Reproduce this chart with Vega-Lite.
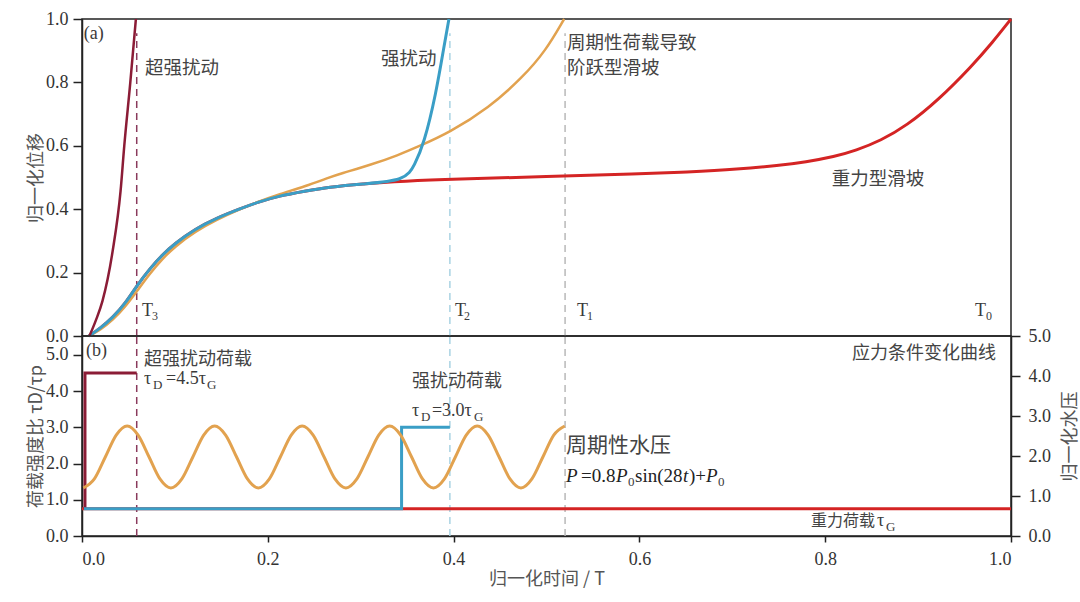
{
  "$schema": "https://vega.github.io/schema/vega-lite/v6.json",
  "background": "white",
  "padding": {"left": 26, "top": 9, "right": 5, "bottom": 5},
  "spacing": 0,
  "bounds": "flush",
  "config": {
    "view": {"stroke": "#222", "strokeWidth": 1.5},
    "axis": {
      "grid": false, "domainColor": "#222", "domainWidth": 1.5,
      "tickColor": "#222", "tickWidth": 1.5, "tickSize": 9,
      "labelFont": "Liberation Serif", "labelFontSize": 18, "labelColor": "#333", "labelPadding": 5,
      "titleFont": "Noto Sans CJK SC", "titleFontSize": 18, "titleFontWeight": "normal", "titleColor": "#555"
    },
    "text": {"color": "#3a3a3a", "align": "left", "baseline": "middle"}
  },
  "datasets": {
    "rulesTop": [
      {"x": 0.0589, "y": 0, "y2": 0.955, "s": "super"},
      {"x": 0.396, "y": 0, "y2": 0.955, "s": "strong"},
      {"x": 0.52, "y": 0, "y2": 0.955, "s": "cyclic"}
    ],
    "rulesBottom": [
      {"x": 0.0589, "y": 0, "y2": 5.52, "s": "super"},
      {"x": 0.396, "y": 0, "y2": 5.52, "s": "strong"},
      {"x": 0.52, "y": 0, "y2": 5.52, "s": "cyclic"}
    ],
    "gravity": [
      {"x": 0.0075, "y": 0}, {"x": 0.02, "y": 0.025}, {"x": 0.033, "y": 0.058}, {"x": 0.046, "y": 0.1},
      {"x": 0.06, "y": 0.163}, {"x": 0.073, "y": 0.212}, {"x": 0.086, "y": 0.255}, {"x": 0.1, "y": 0.292},
      {"x": 0.122, "y": 0.338}, {"x": 0.145, "y": 0.372}, {"x": 0.169, "y": 0.4}, {"x": 0.19, "y": 0.423},
      {"x": 0.212, "y": 0.442}, {"x": 0.24, "y": 0.457}, {"x": 0.266, "y": 0.47}, {"x": 0.3, "y": 0.48},
      {"x": 0.348, "y": 0.489}, {"x": 0.4, "y": 0.495}, {"x": 0.5, "y": 0.503}, {"x": 0.6, "y": 0.511},
      {"x": 0.65, "y": 0.517}, {"x": 0.707, "y": 0.526}, {"x": 0.75, "y": 0.538}, {"x": 0.779, "y": 0.549},
      {"x": 0.81, "y": 0.566}, {"x": 0.833, "y": 0.585}, {"x": 0.86, "y": 0.617}, {"x": 0.887, "y": 0.662},
      {"x": 0.922, "y": 0.745}, {"x": 0.958, "y": 0.852}, {"x": 0.98, "y": 0.926}, {"x": 1.0, "y": 1.0}
    ],
    "cyclicTop": [
      {"x": 0.0075, "y": 0}, {"x": 0.02, "y": 0.02}, {"x": 0.033, "y": 0.05}, {"x": 0.046, "y": 0.09},
      {"x": 0.06, "y": 0.145}, {"x": 0.073, "y": 0.197}, {"x": 0.086, "y": 0.242}, {"x": 0.1, "y": 0.282},
      {"x": 0.122, "y": 0.33}, {"x": 0.145, "y": 0.367}, {"x": 0.169, "y": 0.399}, {"x": 0.19, "y": 0.424},
      {"x": 0.212, "y": 0.447}, {"x": 0.24, "y": 0.472}, {"x": 0.266, "y": 0.5}, {"x": 0.277, "y": 0.511},
      {"x": 0.312, "y": 0.541}, {"x": 0.34, "y": 0.57}, {"x": 0.363, "y": 0.599}, {"x": 0.395, "y": 0.641},
      {"x": 0.438, "y": 0.72}, {"x": 0.474, "y": 0.815}, {"x": 0.499, "y": 0.899}, {"x": 0.519, "y": 1.0}
    ],
    "strongTop": [
      {"x": 0.0075, "y": 0}, {"x": 0.02, "y": 0.025}, {"x": 0.033, "y": 0.058}, {"x": 0.046, "y": 0.1},
      {"x": 0.06, "y": 0.163}, {"x": 0.073, "y": 0.212}, {"x": 0.086, "y": 0.255}, {"x": 0.1, "y": 0.292},
      {"x": 0.122, "y": 0.338}, {"x": 0.145, "y": 0.372}, {"x": 0.169, "y": 0.4}, {"x": 0.19, "y": 0.423},
      {"x": 0.212, "y": 0.442}, {"x": 0.24, "y": 0.457}, {"x": 0.266, "y": 0.47}, {"x": 0.3, "y": 0.48},
      {"x": 0.348, "y": 0.489}, {"x": 0.358, "y": 0.54}, {"x": 0.368, "y": 0.605}, {"x": 0.381, "y": 0.763},
      {"x": 0.39, "y": 0.92}, {"x": 0.395, "y": 1.0}
    ],
    "superTop": [
      {"x": 0.008, "y": 0}, {"x": 0.015, "y": 0.05}, {"x": 0.022, "y": 0.11}, {"x": 0.033, "y": 0.268},
      {"x": 0.0415, "y": 0.457}, {"x": 0.0455, "y": 0.6}, {"x": 0.052, "y": 0.8}, {"x": 0.058, "y": 1.0}
    ],
    "gravityLoad": [{"x": 0.0, "y": 0.75}, {"x": 1.0, "y": 0.75}],
    "strongLoad": [{"x": 0.002, "y": 0.75}, {"x": 0.344, "y": 0.75}, {"x": 0.344, "y": 3.0}, {"x": 0.396, "y": 3.0}],
    "superLoad": [{"x": 0.0032, "y": 0.75}, {"x": 0.0032, "y": 4.5}, {"x": 0.0589, "y": 4.5}],
    "sine": [
      {"x": 0.0015, "y": 1.2}, {"x": 0.0133, "y": 1.427}, {"x": 0.0251, "y": 1.975}, {"x": 0.0368, "y": 2.523},
      {"x": 0.0486, "y": 2.75}, {"x": 0.0604, "y": 2.523}, {"x": 0.0722, "y": 1.975}, {"x": 0.0839, "y": 1.427},
      {"x": 0.0957, "y": 1.2}, {"x": 0.1075, "y": 1.427}, {"x": 0.1193, "y": 1.975}, {"x": 0.131, "y": 2.523},
      {"x": 0.1428, "y": 2.75}, {"x": 0.1546, "y": 2.523}, {"x": 0.1664, "y": 1.975}, {"x": 0.1781, "y": 1.427},
      {"x": 0.1899, "y": 1.2}, {"x": 0.2017, "y": 1.427}, {"x": 0.2135, "y": 1.975}, {"x": 0.2252, "y": 2.523},
      {"x": 0.237, "y": 2.75}, {"x": 0.2488, "y": 2.523}, {"x": 0.2606, "y": 1.975}, {"x": 0.2723, "y": 1.427},
      {"x": 0.2841, "y": 1.2}, {"x": 0.2959, "y": 1.427}, {"x": 0.3077, "y": 1.975}, {"x": 0.3194, "y": 2.523},
      {"x": 0.3312, "y": 2.75}, {"x": 0.343, "y": 2.523}, {"x": 0.3548, "y": 1.975}, {"x": 0.3665, "y": 1.427},
      {"x": 0.3783, "y": 1.2}, {"x": 0.3901, "y": 1.427}, {"x": 0.4019, "y": 1.975}, {"x": 0.4136, "y": 2.523},
      {"x": 0.4254, "y": 2.75}, {"x": 0.4372, "y": 2.523}, {"x": 0.449, "y": 1.975}, {"x": 0.4607, "y": 1.427},
      {"x": 0.4725, "y": 1.2}, {"x": 0.4843, "y": 1.427}, {"x": 0.4961, "y": 1.975}, {"x": 0.5078, "y": 2.523},
      {"x": 0.5196, "y": 2.75}
    ],
    "cjkTop": [
      {"x": 0.0678, "y": 0.846, "t": "超强扰动"},
      {"x": 0.3219, "y": 0.873, "t": "强扰动"},
      {"x": 0.522, "y": 0.925, "t": "周期性荷载导致"},
      {"x": 0.522, "y": 0.846, "t": "阶跃型滑坡"},
      {"x": 0.807, "y": 0.496, "t": "重力型滑坡"}
    ],
    "serifTop": [
      {"x": 0.002, "y": 0.953, "t": "(a)"},
      {"x": 0.0646, "y": 0.079, "t": "T"},
      {"x": 0.4015, "y": 0.079, "t": "T"},
      {"x": 0.5328, "y": 0.079, "t": "T"},
      {"x": 0.9612, "y": 0.079, "t": "T"}
    ],
    "subTop": [
      {"x": 0.0753, "y": 0.079, "t": "3"},
      {"x": 0.4112, "y": 0.079, "t": "2"},
      {"x": 0.5436, "y": 0.079, "t": "1"},
      {"x": 0.9731, "y": 0.079, "t": "0"}
    ],
    "cjkBottom": [
      {"x": 0.0667, "y": 4.85, "t": "超强扰动荷载"},
      {"x": 0.3552, "y": 4.25, "t": "强扰动荷载"},
      {"x": 0.8288, "y": 5.03, "t": "应力条件变化曲线"}
    ],
    "cjkSmall": [
      {"x": 0.7847, "y": 0.414, "t": "重力荷载"}
    ],
    "cjkBig": [
      {"x": 0.521, "y": 2.49, "t": "周期性水压"}
    ],
    "serifBottom": [
      {"x": 0.0043, "y": 5.11, "t": "(b)"},
      {"x": 0.0667, "y": 4.34, "t": "τ"},
      {"x": 0.0904, "y": 4.34, "t": "=4.5τ"},
      {"x": 0.3552, "y": 3.45, "t": "τ"},
      {"x": 0.3767, "y": 3.45, "t": "=3.0τ"},
      {"x": 0.8558, "y": 0.414, "t": "τ"}
    ],
    "formulaUpright": [
      {"x": 0.5371, "y": 1.66, "t": "=0.8"},
      {"x": 0.5953, "y": 1.66, "t": "sin(28"},
      {"x": 0.6534, "y": 1.66, "t": ")+"}
    ],
    "formulaItalic": [
      {"x": 0.521, "y": 1.66, "t": "P"},
      {"x": 0.5748, "y": 1.66, "t": "P"},
      {"x": 0.647, "y": 1.66, "t": "t"},
      {"x": 0.6717, "y": 1.66, "t": "P"}
    ],
    "subBottom": [
      {"x": 0.0764, "y": 4.34, "t": "D"},
      {"x": 0.1346, "y": 4.34, "t": "G"},
      {"x": 0.3649, "y": 3.45, "t": "D"},
      {"x": 0.422, "y": 3.45, "t": "G"},
      {"x": 0.8654, "y": 0.414, "t": "G"},
      {"x": 0.5877, "y": 1.66, "t": "0"},
      {"x": 0.6846, "y": 1.66, "t": "0"}
    ]
  },
  "vconcat": [
    {
      "width": 929,
      "height": 317,
      "encoding": {
        "x": {"field": "x", "type": "quantitative", "scale": {"domain": [0, 1], "nice": false}, "axis": null},
        "y": {
          "field": "y", "type": "quantitative", "scale": {"domain": [0, 1], "nice": false},
          "axis": {"title": "归一化位移", "values": [0, 0.2, 0.4, 0.6, 0.8, 1.0], "format": ".1f", "titlePadding": 0}
        }
      },
      "layer": [
        {
          "data": {"name": "rulesTop"},
          "mark": {"type": "rule", "strokeDash": [7, 5], "strokeWidth": 1.5},
          "encoding": {
            "y2": {"field": "y2"},
            "color": {"field": "s", "type": "nominal", "legend": null,
              "scale": {"domain": ["super", "strong", "cyclic"], "range": ["#8a3a5c", "#a9d3e3", "#b8b8b8"]}}
          }
        },
        {"data": {"name": "gravity"}, "mark": {"type": "line", "color": "#d42424", "strokeWidth": 3, "interpolate": "basis"}},
        {"data": {"name": "cyclicTop"}, "mark": {"type": "line", "color": "#e2a24f", "strokeWidth": 2.5, "interpolate": "basis"}},
        {"data": {"name": "strongTop"}, "mark": {"type": "line", "color": "#3a9ec6", "strokeWidth": 3, "interpolate": "basis"}},
        {"data": {"name": "superTop"}, "mark": {"type": "line", "color": "#8b1c36", "strokeWidth": 2.5, "interpolate": "monotone"}},
        {
          "data": {"name": "cjkTop"},
          "mark": {"type": "text", "font": "Noto Sans CJK SC", "fontSize": 18.5, "color": "#444"},
          "encoding": {"text": {"field": "t"}}
        },
        {
          "data": {"name": "serifTop"},
          "mark": {"type": "text", "font": "Liberation Serif", "fontSize": 18},
          "encoding": {"text": {"field": "t"}}
        },
        {
          "data": {"name": "subTop"},
          "mark": {"type": "text", "font": "Liberation Serif", "fontSize": 12, "dy": 5},
          "encoding": {"text": {"field": "t"}}
        }
      ]
    },
    {
      "width": 929,
      "height": 200,
      "layer": [
        {
          "encoding": {
            "x": {
              "field": "x", "type": "quantitative", "scale": {"domain": [0, 1], "nice": false},
              "axis": {"title": "归一化时间  / T", "values": [0, 0.2, 0.4, 0.6, 0.8, 1.0], "format": ".1f", "tickSize": 6, "labelPadding": 8, "titlePadding": 2}
            },
            "y": {
              "field": "y", "type": "quantitative", "scale": {"domain": [0, 5.52], "nice": false},
              "axis": {"title": "荷载强度比  τD/τp", "values": [0, 1, 2, 3, 4, 5], "format": ".1f", "titlePadding": 0}
            }
          },
          "layer": [
            {
              "data": {"name": "rulesBottom"},
              "mark": {"type": "rule", "strokeDash": [7, 5], "strokeWidth": 1.5},
              "encoding": {
                "y2": {"field": "y2"},
                "color": {"field": "s", "type": "nominal", "legend": null,
                  "scale": {"domain": ["super", "strong", "cyclic"], "range": ["#8a3a5c", "#a9d3e3", "#b8b8b8"]}}
              }
            },
            {"data": {"name": "gravityLoad"}, "mark": {"type": "line", "color": "#d42424", "strokeWidth": 3}},
            {"data": {"name": "superLoad"}, "mark": {"type": "line", "color": "#8b1c36", "strokeWidth": 3}},
            {"data": {"name": "strongLoad"}, "mark": {"type": "line", "color": "#3a9ec6", "strokeWidth": 3}},
            {
              "data": {"name": "cjkBottom"},
              "mark": {"type": "text", "font": "Noto Sans CJK SC", "fontSize": 18, "color": "#444"},
              "encoding": {"text": {"field": "t"}}
            },
            {
              "data": {"name": "cjkSmall"},
              "mark": {"type": "text", "font": "Noto Sans CJK SC", "fontSize": 16, "color": "#444"},
              "encoding": {"text": {"field": "t"}}
            },
            {
              "data": {"name": "cjkBig"},
              "mark": {"type": "text", "font": "Noto Sans CJK SC", "fontSize": 21, "color": "#444"},
              "encoding": {"text": {"field": "t"}}
            },
            {
              "data": {"name": "serifBottom"},
              "mark": {"type": "text", "font": "Liberation Serif", "fontSize": 18},
              "encoding": {"text": {"field": "t"}}
            },
            {
              "data": {"name": "formulaUpright"},
              "mark": {"type": "text", "font": "Liberation Serif", "fontSize": 19, "color": "#222"},
              "encoding": {"text": {"field": "t"}}
            },
            {
              "data": {"name": "formulaItalic"},
              "mark": {"type": "text", "font": "Liberation Serif", "fontSize": 19, "fontStyle": "italic", "color": "#222"},
              "encoding": {"text": {"field": "t"}}
            },
            {
              "data": {"name": "subBottom"},
              "mark": {"type": "text", "font": "Liberation Serif", "fontSize": 13, "dy": 6},
              "encoding": {"text": {"field": "t"}}
            }
          ]
        },
        {
          "data": {"name": "sine"},
          "mark": {"type": "line", "color": "#e2a24f", "strokeWidth": 3, "interpolate": "monotone"},
          "encoding": {
            "x": {
              "field": "x", "type": "quantitative", "scale": {"domain": [0, 1], "nice": false},
              "axis": {"title": "归一化时间  / T", "values": [0, 0.2, 0.4, 0.6, 0.8, 1.0], "format": ".1f", "tickSize": 6, "labelPadding": 8, "titlePadding": 2}
            },
            "y": {
              "field": "y", "type": "quantitative", "scale": {"domain": [0, 5], "nice": false},
              "axis": {"orient": "right", "title": "归一化水压", "titleAngle": 270, "values": [0, 1, 2, 3, 4, 5], "format": ".1f", "labelPadding": 8, "titlePadding": 29}
            }
          }
        }
      ],
      "resolve": {"scale": {"y": "independent"}, "axis": {"y": "independent"}}
    }
  ]
}
